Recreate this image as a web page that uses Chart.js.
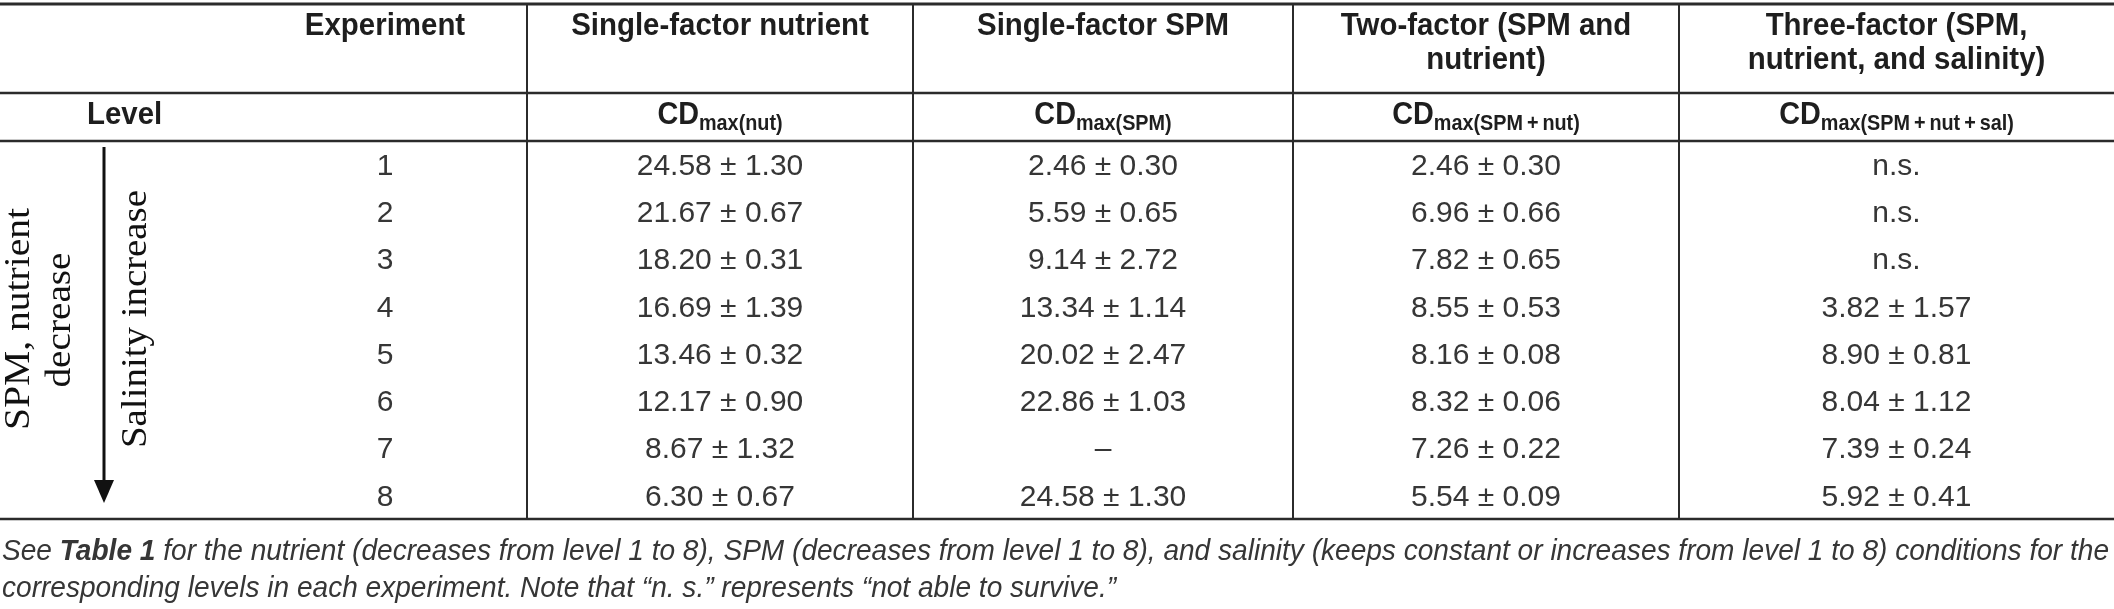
<!DOCTYPE html>
<html>
<head>
<meta charset="utf-8">
<script src="https://cdn.jsdelivr.net/npm/chart.js@4.4.1/dist/chart.umd.min.js"></script>
<style>
  html, body { margin: 0; padding: 0; background: #fff; }
  canvas { display: block; }
</style>
</head>
<body>
<canvas id="table" width="2114" height="609"></canvas>
<script>
// table content
const levels = ['1', '2', '3', '4', '5', '6', '7', '8'];
const experiments = ['Single-factor nutrient', 'Single-factor SPM', 'Two-factor (SPM and nutrient)', 'Three-factor (SPM, nutrient, and salinity)'];
const headerLines = [['Single-factor nutrient'], ['Single-factor SPM'], ['Two-factor (SPM and', 'nutrient)'], ['Three-factor (SPM,', 'nutrient, and salinity)']];
const subLabels = ['max(nut)', 'max(SPM)', 'max(SPM\u2009+\u2009nut)', 'max(SPM\u2009+\u2009nut\u2009+\u2009sal)'];

const nutMean = [24.58, 21.67, 18.20, 16.69, 13.46, 12.17, 8.67, 6.30];
const nutErr = [1.30, 0.67, 0.31, 1.39, 0.32, 0.90, 1.32, 0.67];
const spmMean = [2.46, 5.59, 9.14, 13.34, 20.02, 22.86, null, 24.58];
const spmErr = [0.30, 0.65, 2.72, 1.14, 2.47, 1.03, null, 1.30];
const twoMean = [2.46, 6.96, 7.82, 8.55, 8.16, 8.32, 7.26, 5.54];
const twoErr = [0.30, 0.66, 0.65, 0.53, 0.08, 0.06, 0.22, 0.09];
const threeMean = [null, null, null, 3.82, 8.90, 8.04, 7.39, 5.92];
const threeErr = [null, null, null, 1.57, 0.81, 1.12, 0.24, 0.41];
const blankText = ['\u2013', '\u2013', '\u2013', 'n.s.'];

const captionLine1 = ['See ', 'Table 1', ' for the nutrient (decreases from level 1 to 8), SPM (decreases from level 1 to 8), and salinity (keeps constant or increases from level 1 to 8) conditions for the'];
const captionLine2 = 'corresponding levels in each experiment. Note that \u201cn. s.\u201d represents \u201cnot able to survive.\u201d';

// layout
const colEdges = [0, 527, 913, 1293, 1679, 2114];
const colCenter = i => (colEdges[i] + colEdges[i + 1]) / 2;
const expCenterX = 385;
const ink = '#1e1e1e';
const grey = '#363636';
const sans = '"Liberation Sans", Arial, Helvetica, sans-serif';
const serif = '"Liberation Serif", "Times New Roman", serif';

const meanSets = [nutMean, spmMean, twoMean, threeMean];
const errSets = [nutErr, spmErr, twoErr, threeErr];

function cellText(m, e, col) {
    if (m === null || m === undefined) return blankText[col];
    return m.toFixed(2) + ' \u00b1 ' + e.toFixed(2);
}

const datasets = meanSets.map(function (means, col) {
    return {
        label: experiments[col],
        data: levels.map(function (lv, i) {
            return { x: colCenter(col + 1), y: lv, text: cellText(means[i], errSets[col][i], col) };
        }),
        pointRadius: 0,
        showLine: false
    };
});
datasets.unshift({
    label: 'Level',
    data: levels.map(lv => ({ x: expCenterX, y: lv, text: lv })),
    pointRadius: 0,
    showLine: false
});

function hLine(ctx, y, x1, x2, w) {
    ctx.beginPath();
    ctx.lineWidth = w;
    ctx.moveTo(x1, y);
    ctx.lineTo(x2, y);
    ctx.stroke();
}

function vLine(ctx, x, y1, y2, w) {
    ctx.beginPath();
    ctx.lineWidth = w;
    ctx.moveTo(x, y1);
    ctx.lineTo(x, y2);
    ctx.stroke();
}

// bold header text, a little condensed like the original face
function headText(ctx, text, x, y, align) {
    ctx.save();
    ctx.font = 'bold 32px ' + sans;
    ctx.translate(x, y);
    ctx.scale(0.92, 1);
    ctx.textAlign = align;
    ctx.textBaseline = 'alphabetic';
    ctx.fillText(text, 0, 0);
    ctx.restore();
}

function drawCD(ctx, cx, baseY, sub) {
    ctx.save();
    ctx.font = 'bold 32px ' + sans;
    let w1 = ctx.measureText('CD').width;
    ctx.font = 'bold 22px ' + sans;
    let w2 = ctx.measureText(sub).width;
    ctx.translate(cx, baseY);
    ctx.scale(0.9, 1);
    let x0 = -(w1 + w2) / 2;
    ctx.textAlign = 'left';
    ctx.textBaseline = 'alphabetic';
    ctx.font = 'bold 32px ' + sans;
    ctx.fillText('CD', x0, 0);
    ctx.font = 'bold 22px ' + sans;
    ctx.fillText(sub, x0 + w1, 6);
    ctx.restore();
}

function drawRotated(ctx, text, cx, cy, font, targetLen) {
    ctx.save();
    ctx.translate(cx, cy);
    ctx.rotate(-Math.PI / 2);
    ctx.font = font;
    let w = ctx.measureText(text).width;
    ctx.scale(targetLen / w, 1);
    ctx.textAlign = 'center';
    ctx.textBaseline = 'middle';
    ctx.fillText(text, 0, 0);
    ctx.restore();
}

const tablePlugin = {
    id: 'tablePlugin',
    afterDatasetsDraw(chart) {
        const ctx = chart.ctx;
        const area = chart.chartArea;
        const top = 4, headDiv = 93;
        ctx.save();

        // rules
        ctx.strokeStyle = '#2b2b2b';
        hLine(ctx, top, 0, 2114, 3);
        hLine(ctx, headDiv, 0, 2114, 2.5);
        hLine(ctx, area.top, 0, 2114, 2.5);
        hLine(ctx, area.bottom, 0, 2114, 2.5);
        for (let i = 1; i < colEdges.length - 1; i++) {
            vLine(ctx, colEdges[i], top, area.bottom, 2);
        }

        // header
        ctx.fillStyle = ink;
        headText(ctx, 'Experiment', expCenterX, 35, 'center');
        headerLines.forEach(function (lines, col) {
            lines.forEach(function (t, k) {
                headText(ctx, t, colCenter(col + 1), 35 + k * 34, 'center');
            });
        });
        headText(ctx, 'Level', 87, 124, 'left');
        subLabels.forEach(function (s, col) {
            drawCD(ctx, colCenter(col + 1), 124, s);
        });

        // body cells
        ctx.fillStyle = grey;
        ctx.font = '30px ' + sans;
        ctx.textAlign = 'center';
        ctx.textBaseline = 'middle';
        chart.data.datasets.forEach(function (ds, di) {
            const meta = chart.getDatasetMeta(di);
            meta.data.forEach(function (pt, i) {
                ctx.fillText(ds.data[i].text, pt.x, pt.y + 2);
            });
        });

        // side annotations
        ctx.fillStyle = '#111';
        drawRotated(ctx, 'SPM, nutrient', 20, 319, '36px ' + serif, 222);
        drawRotated(ctx, 'decrease', 61, 320, '36px ' + serif, 135);
        drawRotated(ctx, 'Salinity increase', 137, 319, '36px ' + serif, 258);
        ctx.strokeStyle = '#111';
        vLine(ctx, 104, area.top + 6, 484, 3);
        ctx.beginPath();
        ctx.moveTo(94, 480);
        ctx.lineTo(114, 480);
        ctx.lineTo(104, 503);
        ctx.closePath();
        ctx.fill();

        // caption
        ctx.fillStyle = grey;
        ctx.textAlign = 'left';
        ctx.textBaseline = 'alphabetic';
        const fonts = ['italic 30px ' + sans, 'italic bold 30px ' + sans, 'italic 30px ' + sans];
        let total = 0;
        captionLine1.forEach(function (t, k) {
            ctx.font = fonts[k];
            total += ctx.measureText(t).width;
        });
        const sx = 2107 / total;
        ctx.save();
        ctx.translate(2, 560);
        ctx.scale(sx, 1);
        let x = 0;
        captionLine1.forEach(function (t, k) {
            ctx.font = fonts[k];
            ctx.fillText(t, x, 0);
            x += ctx.measureText(t).width;
        });
        ctx.font = fonts[0];
        ctx.fillText(captionLine2, 0, 37);
        ctx.restore();

        ctx.restore();
    }
};

new Chart(document.getElementById('table'), {
    type: 'scatter',
    data: { datasets: datasets },
    options: {
        responsive: false,
        devicePixelRatio: 1,
        animation: false,
        layout: { padding: { top: 141, bottom: 90, left: 0, right: 0 } },
        plugins: { legend: { display: false }, tooltip: { enabled: false } },
        scales: {
            x: { type: 'linear', min: 0, max: 2114, display: false },
            y: { type: 'category', labels: levels, offset: true, display: false }
        }
    },
    plugins: [tablePlugin]
});
</script>
</body>
</html>
